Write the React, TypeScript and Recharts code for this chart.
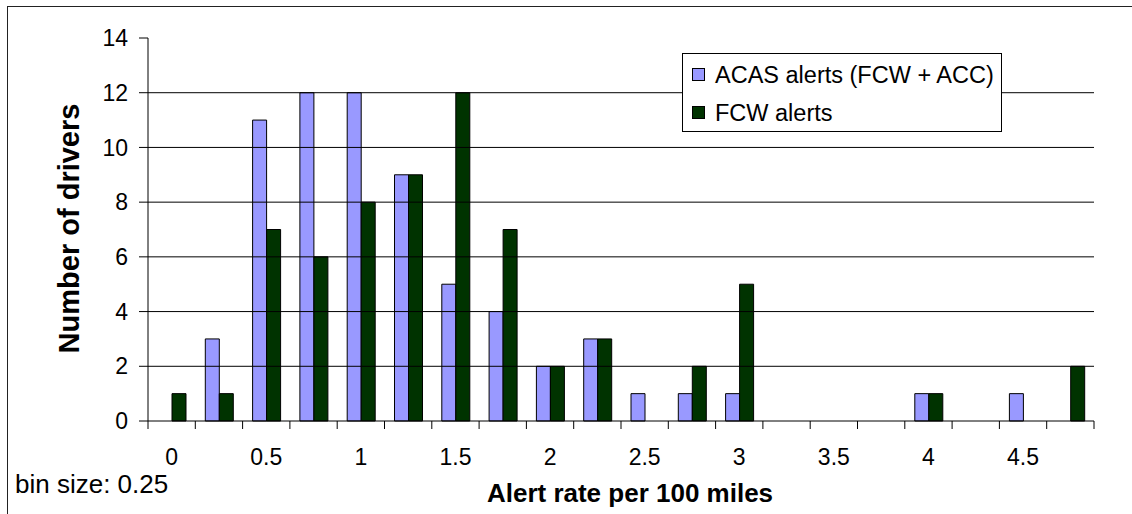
import React from 'react';
import { BarChart, Bar, XAxis, YAxis, ReferenceLine, Legend } from 'recharts';

const bins = ['0', '0.25', '0.5', '0.75', '1', '1.25', '1.5', '1.75', '2', '2.25', '2.5', '2.75', '3', '3.25', '3.5', '3.75', '4', '4.25', '4.5', '4.75'];
const tickLabels = ['0', '', '0.5', '', '1', '', '1.5', '', '2', '', '2.5', '', '3', '', '3.5', '', '4', '', '4.5', ''];
const acasAlerts = [0, 3, 11, 12, 12, 9, 5, 4, 2, 3, 1, 1, 1, 0, 0, 0, 1, 0, 1, 0];
const fcwAlerts = [1, 1, 7, 6, 8, 9, 12, 7, 2, 3, 0, 2, 5, 0, 0, 0, 1, 0, 0, 2];
const yTicks = [0, 2, 4, 6, 8, 10, 12, 14];

const data = bins.map((b, i) => ({ bin: b, acas: acasAlerts[i], fcw: fcwAlerts[i] }));

const FONT = '"Liberation Sans", Arial, sans-serif';
const W = 1125;
const H = 508;
const M = { top: 32, right: 38, left: 61, bottom: 53 };
const Y_W = 80;
const PLOT_W = W - M.left - Y_W - M.right;
const BAND = PLOT_W / bins.length;

function XTick(props: any) {
  const { x, y, index } = props;
  const left = x - BAND / 2;
  const right = x + BAND / 2;
  const label = tickLabels[index];
  return (
    <g>
      <line x1={left} y1={y} x2={left} y2={y + 8} stroke="#000" />
      {index === bins.length - 1 && <line x1={right} y1={y} x2={right} y2={y + 8} stroke="#000" />}
      {label ? (
        <text x={x} y={y + 44} textAnchor="middle" fontSize={23} fontFamily={FONT} fill="#000">
          {label}
        </text>
      ) : null}
    </g>
  );
}

function XTitle(props: any) {
  const vb = props.viewBox || {};
  return (
    <g>
      <text x={vb.x + vb.width / 2 + 9} y={vb.y + 80.5} textAnchor="middle" fontSize={26} fontWeight="bold" fontFamily={FONT} fill="#000">
        Alert rate per 100 miles
      </text>
      <text x={8} y={vb.y + 72} textAnchor="start" fontSize={26} fontFamily={FONT} fill="#000">
        bin size: 0.25
      </text>
    </g>
  );
}

function YTitle(props: any) {
  const vb = props.viewBox || {};
  const cx = vb.x + 11;
  const cy = vb.y + vb.height / 2 - 1;
  return (
    <text x={cx} y={cy} transform={`rotate(-90, ${cx}, ${cy})`} textAnchor="middle" fontSize={29} fontWeight="bold" fontFamily={FONT} fill="#000">
      Number of drivers
    </text>
  );
}

function LegendBox(props: any) {
  const payload = props.payload || [];
  return (
    <div style={{ width: 318, height: 77, border: '1px solid #000', background: '#fff', fontFamily: FONT, fontSize: 23.5, color: '#000', position: 'relative' }}>
      {payload.map((p: any, i: number) => (
        <div key={i} style={{ position: 'absolute', left: 9, top: 21 + i * 38 - 13, height: 26, display: 'flex', alignItems: 'center', whiteSpace: 'nowrap' }}>
          <span style={{ display: 'inline-block', width: 11, height: 11, border: '1px solid #000', background: p.color, marginRight: 10 }} />
          <span style={{ lineHeight: '26px' }}>{p.value}</span>
        </div>
      ))}
    </div>
  );
}

export default function App() {
  return (
    <div style={{ position: 'relative', width: W, height: H, marginLeft: -1, marginTop: -2, background: '#fff' }}>
      <BarChart width={W} height={H} data={data} margin={M} barGap={0} barSize={14}>
        <XAxis
          dataKey="bin"
          interval={0}
          tickSize={0}
          tickMargin={0}
          tickLine={false}
          height={40}
          axisLine={{ stroke: '#000' }}
          tick={<XTick />}
          label={(p: any) => <XTitle {...p} />}
        />
        <XAxis xAxisId="top" orientation="top" dataKey="bin" height={0} tick={false} tickLine={false} axisLine={{ stroke: '#808080' }} />
        <YAxis
          domain={[0, 14]}
          ticks={yTicks}
          interval={0}
          width={Y_W}
          tickSize={9}
          tickMargin={11}
          tickLine={{ stroke: '#000' }}
          axisLine={{ stroke: '#000' }}
          tick={{ fontSize: 23, fill: '#000', fontFamily: FONT }}
          label={(p: any) => <YTitle {...p} />}
        />
        <YAxis yAxisId="right" orientation="right" domain={[0, 14]} width={0} tick={false} tickLine={false} axisLine={{ stroke: '#808080' }} />
        {yTicks.slice(1, -1).map((v) => (
          <ReferenceLine key={v} y={v} stroke="#000" strokeWidth={1} ifOverflow="visible" />
        ))}
        <Legend
          layout="vertical"
          align="center"
          verticalAlign="middle"
          content={<LegendBox />}
          wrapperStyle={{ left: 675, top: 46.7, width: 320, height: 79 }}
        />
        <Bar dataKey="acas" name="ACAS alerts (FCW + ACC)" fill="#9999FF" stroke="#000" strokeWidth={1} isAnimationActive={false} />
        <Bar dataKey="fcw" name="FCW alerts" fill="#003300" stroke="#000" strokeWidth={1} isAnimationActive={false} />
      </BarChart>
      <div style={{ position: 'fixed', left: 7, top: 6, width: 1125, height: 508, borderTop: '1px solid #222', borderLeft: '1px solid #222', pointerEvents: 'none', zIndex: 10 }} />
    </div>
  );
}
